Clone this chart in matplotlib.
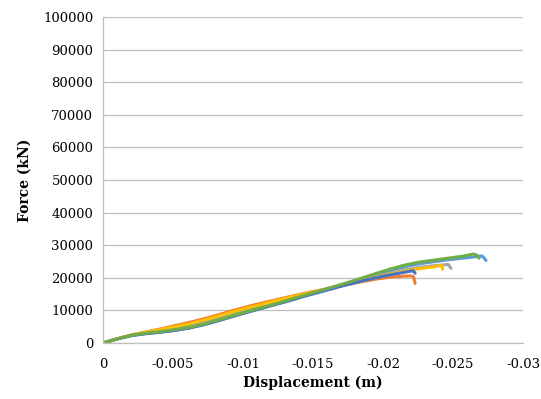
import matplotlib.pyplot as plt

plt.rcParams['font.family'] = ['DejaVu Serif']

# Force-displacement curves for six specimens (displacement in m, force in kN)
# shared displacement steps for the rising branch
disp_grid = [0, -0.00103, -0.00205, -0.00308, -0.0041, -0.00513, -0.00616, -0.00718,
             -0.00821, -0.00923, -0.01026, -0.01129, -0.01231, -0.01334, -0.01436,
             -0.01539, -0.01642, -0.01744, -0.01847, -0.01949, -0.02052, -0.02155]

disp_lightblue = disp_grid + [-0.02257, -0.0236, -0.02462, -0.02565, -0.02668, -0.02705,
                              -0.0272, -0.02736]
force_lightblue = [0, 1250, 2300, 2900, 3350, 3900, 4600, 5600, 6800, 8100,
                   9400, 10600, 11800, 13100, 14400, 15700, 17000, 18300, 19600, 20900,
                   22200, 23400, 24300, 24900, 25500, 26000, 26500, 26700, 26200, 25300]

disp_orange = disp_grid[:-1] + [-0.02155, -0.02204, -0.0222, -0.02229]
force_orange = [0, 1300, 2500, 3400, 4300, 5300, 6300, 7400, 8600, 9900,
                11100, 12200, 13200, 14200, 15200, 16100, 17000, 17900, 18800, 19600,
                20200, 20500, 20600, 20200, 18300]

disp_grey = disp_grid + [-0.02257, -0.0236, -0.02442, -0.02466, -0.02486]
force_grey = [0, 1300, 2400, 3200, 3900, 4700, 5600, 6600, 7800, 9100,
              10300, 11500, 12600, 13700, 14800, 15900, 17000, 18100, 19200, 20300,
              21400, 22400, 23200, 23700, 24000, 24100, 22900]

disp_yellow = disp_grid + [-0.02257, -0.0236, -0.024, -0.02419, -0.02426]
force_yellow = [0, 1300, 2450, 3300, 4100, 5000, 5900, 7000, 8200, 9500,
                10700, 11800, 12900, 14000, 15000, 16000, 17000, 18100, 19100, 20100,
                21100, 22000, 22800, 23300, 23700, 23800, 22600]

disp_darkblue = disp_grid[:-1] + [-0.02155, -0.02204, -0.02216, -0.02229]
force_darkblue = [0, 1250, 2300, 2850, 3300, 3850, 4600, 5600, 6800, 8100,
                  9400, 10600, 11800, 13000, 14300, 15500, 16700, 17900, 19000, 20000,
                  20900, 21700, 22100, 22200, 21400]

disp_green = disp_grid + [-0.02257, -0.0236, -0.02462, -0.02565, -0.02625, -0.02645,
                          -0.02672, -0.02686]
force_green = [0, 1300, 2400, 3000, 3500, 4100, 4800, 5800, 7000, 8300,
               9600, 10800, 12000, 13300, 14600, 15900, 17200, 18500, 19900, 21300,
               22700, 23900, 24800, 25400, 26000, 26600, 27100, 27300, 26900, 26000]

x_ticks = [0, -0.005, -0.01, -0.015, -0.02, -0.025, -0.03]
x_tick_labels = ['0', '-0.005', '-0.01', '-0.015', '-0.02', '-0.025', '-0.03']
y_ticks = list(range(0, 100001, 10000))

fig = plt.figure(figsize=(5.41, 3.99), dpi=100)
ax = fig.add_axes([0.1904, 0.1404, 0.7763, 0.817])

series = [
    (disp_lightblue, force_lightblue, '#5B9BD5'),
    (disp_orange, force_orange, '#ED7D31'),
    (disp_grey, force_grey, '#A5A5A5'),
    (disp_yellow, force_yellow, '#FFC000'),
    (disp_darkblue, force_darkblue, '#4472C4'),
    (disp_green, force_green, '#70AD47'),
]
for d, f, c in series:
    ax.plot(d, f, color=c, linewidth=2.2, solid_capstyle='round', solid_joinstyle='round')

ax.set_xlim(0, -0.03)
ax.set_ylim(0, 100000)
ax.set_xticks(x_ticks)
ax.set_xticklabels(x_tick_labels)
ax.set_yticks(y_ticks)
ax.tick_params(axis='both', length=0, labelsize=9.5)
ax.tick_params(axis='x', pad=11)
ax.tick_params(axis='y', pad=7)

ax.yaxis.grid(True, color='#BFBFBF', linewidth=0.9)
ax.set_axisbelow(True)
for side in ['top', 'right']:
    ax.spines[side].set_visible(False)
for side in ['left', 'bottom']:
    ax.spines[side].set_color('#BFBFBF')
    ax.spines[side].set_linewidth(0.9)

ax.set_xlabel('Displacement (m)', fontsize=10, fontweight='bold', labelpad=3)
ax.set_ylabel('Force (kN)', fontsize=10, fontweight='bold', labelpad=8)

fig.savefig('out.png', dpi=100)
